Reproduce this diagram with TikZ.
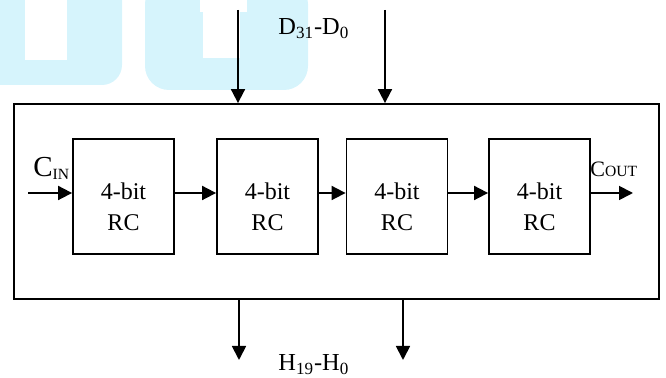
\documentclass[tikz,border=0pt]{standalone}
\usepackage{fontspec}
\setmainfont{Liberation Serif}
\usetikzlibrary{arrows.meta}
\definecolor{wmark}{RGB}{214,244,252}
\newcommand{\smallsub}[2][1.5pt]{\raisebox{-#1}{\fontsize{7.8}{8}\selectfont #2}}
\tikzset{
  rcbox/.style={draw=black, line width=0.9pt, minimum width=50.5pt, minimum height=57.5pt, inner sep=0pt},
  outerbox/.style={draw=black, line width=0.9pt, minimum width=322.5pt, minimum height=97.5pt, inner sep=0pt},
  rctext/.style={align=center, inner sep=0pt, font=\fontsize{12}{15.5}\selectfont},
  lbl/.style={inner sep=0pt, font=\fontsize{12.2}{14}\selectfont},
  arr/.style={line width=0.9pt, -{Triangle[length=7pt,width=7pt]}}
}
\begin{document}
\begin{tikzpicture}[x=0.5pt,y=-0.5pt]
\useasboundingbox (0,0) rectangle (666,378);
% watermark
\fill[wmark, rounded corners=10pt]
  (-20,-20) -- (122,-20) -- (122,85) -- (-20,85) -- cycle;
\fill[white] (25,-5) rectangle (67,60);
\fill[wmark, rounded corners=12pt]
  (145,-20) -- (308,-20) -- (308,90) -- (145,90) -- cycle;
\fill[white] (203,-5) rectangle (240,58);
\fill[white] (200,-5) rectangle (247,12);
% main structure
\node[outerbox] (outer) at (336.5,201.5) {};
\node[rcbox] (b1) at (123.5,196.5) {};
\node[rcbox] (b2) at (267.5,196.5) {};
\node[rcbox] (b3) at (397,196.5) {};
\node[rcbox] (b4) at (539.5,196.5) {};
\node[rctext] (t1) at (123.5,206.3) {4-bit\\RC};
\node[rctext] (t2) at (267.5,206.3) {4-bit\\RC};
\node[rctext] (t3) at (397,206.3) {4-bit\\RC};
\node[rctext] (t4) at (539.5,206.3) {4-bit\\RC};
\coordinate (cy) at (0,193);
\coordinate (cin) at (28,193);
\coordinate (cout) at (633,193);
\coordinate (d1) at (238,10);
\coordinate (d2) at (385,10);
\coordinate (h1) at (239,360);
\coordinate (h2) at (403,360);
\draw[arr] (cin) -- (b1.west |- cy);
\draw[arr] (b1.east |- cy) -- (b2.west |- cy);
\draw[arr] (b2.east |- cy) -- (b3.west |- cy);
\draw[arr] (b3.east |- cy) -- (b4.west |- cy);
\draw[arr] (b4.east |- cy) -- (cout);
\draw[arr] (d1) -- (d1 |- outer.north);
\draw[arr] (d2) -- (d2 |- outer.north);
\draw[arr] (h1 |- outer.south) -- (h1);
\draw[arr] (h2 |- outer.south) -- (h2);
\node[lbl, anchor=base west] (dlabel) at (278,35) {D\textsubscript{31}-D\textsubscript{0}};
\node[lbl, anchor=base west] (hlabel) at (278,371) {H\textsubscript{19}-H\textsubscript{0}};
\node[lbl, anchor=base west] (cinlabel) at (33,177) {{\fontsize{14.5}{16}\selectfont C}\smallsub{IN}};
\node[lbl, anchor=base west] (coutlabel) at (590,177) {{\fontsize{11}{13}\selectfont C}\smallsub[0pt]{OUT}};
\end{tikzpicture}
\end{document}
